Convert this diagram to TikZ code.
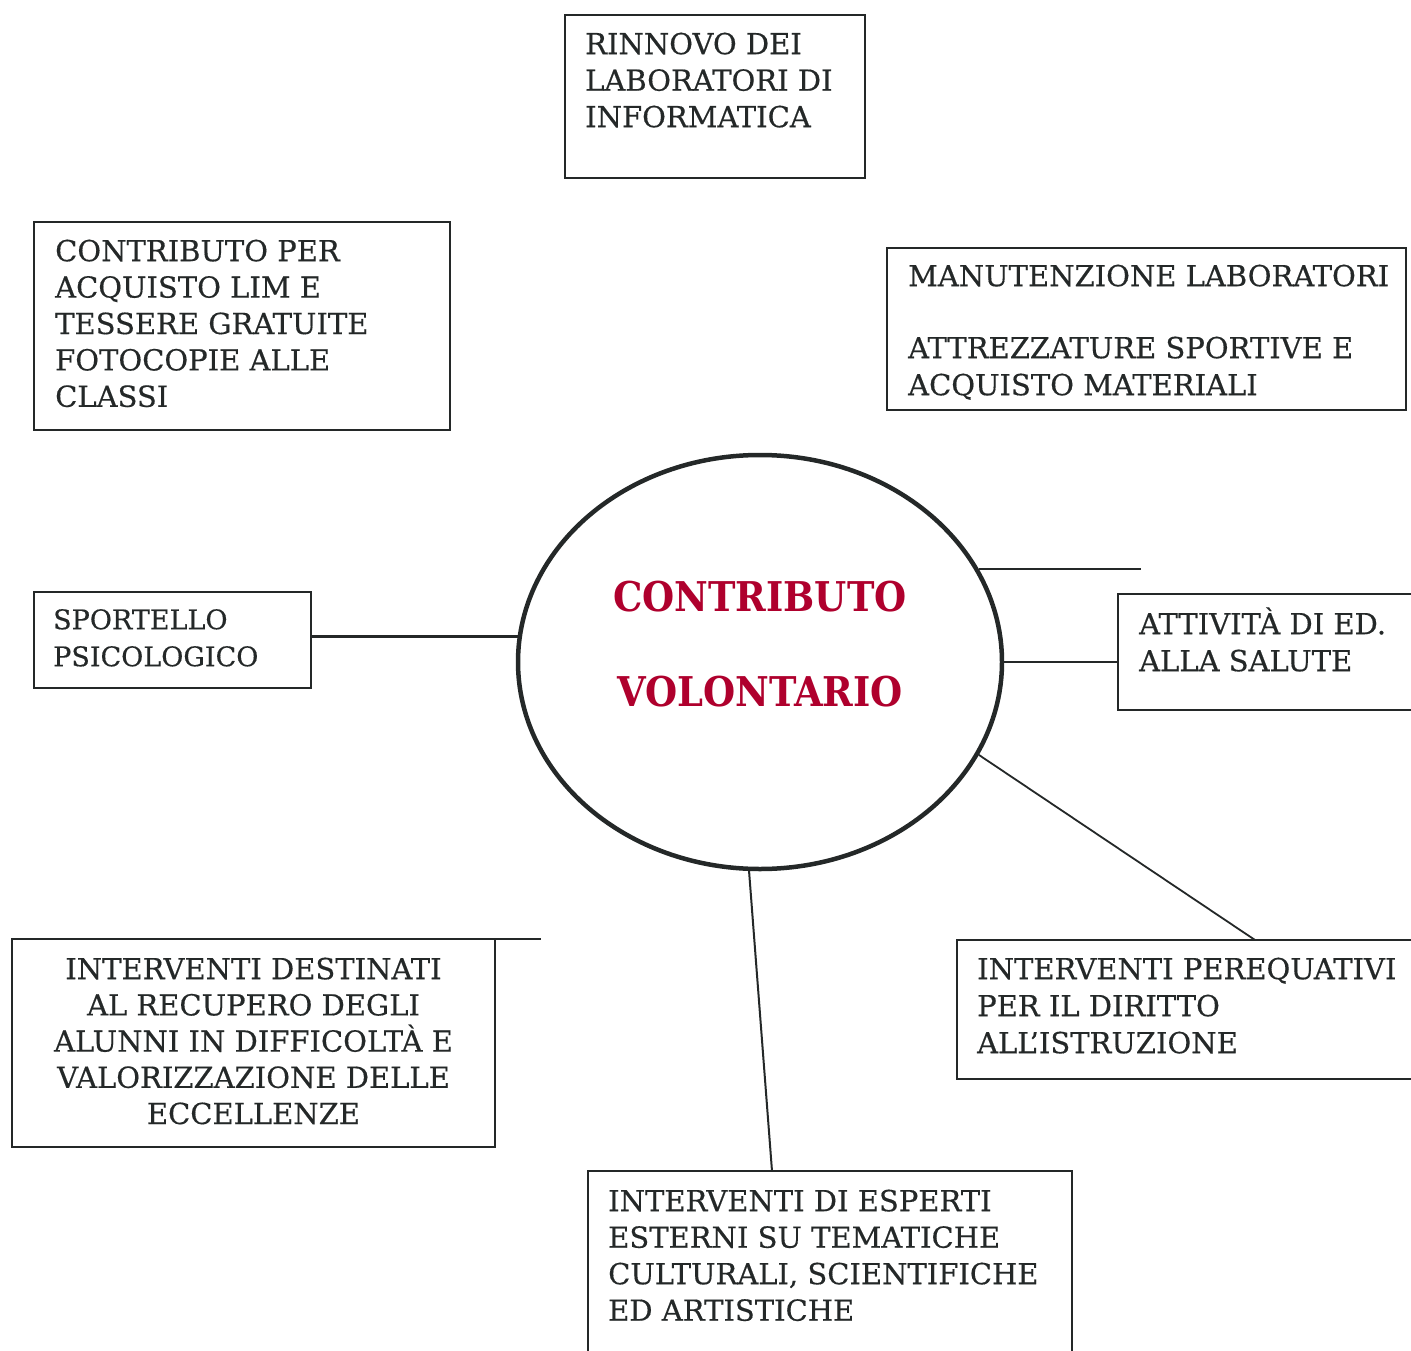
\documentclass[tikz,border=0pt]{standalone}
\usepackage{fontspec}
\setmainfont{DejaVu Serif}[FakeBold=0.4]
\newfontfamily\titlefont{DejaVu Serif Condensed}
\usetikzlibrary{shapes.geometric}
\definecolor{ink}{RGB}{36,40,40}
\definecolor{crimson}{RGB}{175,0,45}
\newcommand{\mystrut}{\rule{0pt}{30pt}}
\begin{document}
\begin{tikzpicture}[x=1pt,y=-1pt,
  frame/.style={draw=ink,line width=2.5pt,anchor=north west,inner sep=0pt,outer sep=0pt},
  txt/.style={font=\fontsize{29}{36.5}\selectfont,text=ink,align=left,inner sep=0pt,anchor=north west},
  link/.style={draw=ink,line width=2.3pt}]
\useasboundingbox (0,0) rectangle (1411,1351);
\fill[white] (0,0) rectangle (1411,1351);
\clip (0,0) rectangle (1411,1351);

% boxes
\node[frame,minimum width=300pt,minimum height=163pt] (rin) at (565,15) {};
\node[frame,minimum width=416pt,minimum height=208pt] (cpl) at (34,222) {};
\node[frame,minimum width=519pt,minimum height=162pt] (man) at (887,248) {};
\node[frame,minimum width=277pt,minimum height=96pt] (sport) at (34,592) {};
\node[frame,minimum width=320pt,minimum height=116pt] (att) at (1118,594) {};
\node[frame,minimum width=483pt,minimum height=208pt] (dest) at (12,939) {};
\node[frame,minimum width=480pt,minimum height=139pt] (per) at (957,940) {};
\node[frame,minimum width=484pt,minimum height=200pt] (esp) at (588,1171) {};

% texts
\node[txt] (rinT) at (585,24) {\mystrut RINNOVO DEI\\LABORATORI DI\\INFORMATICA};
\node[txt,font=\fontsize{29}{36.4}\selectfont] (cplT) at (55,231) {\mystrut CONTRIBUTO PER\\ACQUISTO LIM E\\TESSERE GRATUITE\\FOTOCOPIE ALLE\\CLASSI};
\node[txt,font=\fontsize{29}{37}\selectfont] (manT) at (908,256) {\mystrut MANUTENZIONE LABORATORI\\[35pt]ATTREZZATURE SPORTIVE E\\ACQUISTO MATERIALI};
\node[txt,font=\fontsize{27}{37}\selectfont] (sportT) at (53,599) {\mystrut SPORTELLO\\PSICOLOGICO};
\node[txt,font=\fontsize{29}{37}\selectfont] (attT) at (1139,604) {\mystrut ATTIVITÀ DI ED.\\ALLA SALUTE};
\node[txt,align=center,anchor=north,font=\fontsize{29}{36.2}\selectfont] (destT) at (253.5,949) {\mystrut INTERVENTI DESTINATI\\AL RECUPERO DEGLI\\ALUNNI IN DIFFICOLTÀ E\\VALORIZZAZIONE DELLE\\ECCELLENZE};
\node[txt,font=\fontsize{29}{37}\selectfont] (perT) at (977,949) {\mystrut INTERVENTI PEREQUATIVI\\PER IL DIRITTO\\ALL’ISTRUZIONE};
\node[txt] (espT) at (608,1181) {\mystrut INTERVENTI DI ESPERTI\\ESTERNI SU TEMATICHE\\CULTURALI, SCIENTIFICHE\\ED ARTISTICHE};

% central ellipse
\node[draw=ink,line width=4.5pt,ellipse,minimum width=484pt,minimum height=414pt,inner sep=0pt] (ell) at (760,662) {};
\node[font=\titlefont\bfseries\fontsize{41}{95}\selectfont,text=crimson,align=center,inner sep=0pt,anchor=north] (title) at (760,566) {\rule{0pt}{45pt}CONTRIBUTO\\VOLONTARIO};

% connectors
\coordinate (free) at (1141,570);
\coordinate (destend) at (541,939);
\draw[link] (ell.174.3) -- (ell.174.3 -| sport.east);
\draw[link] (ell.east) -- (ell.east -| att.west);
\draw[link] (ell.23) -- (ell.23 -| free);
\draw[link,line width=1.8pt] ([xshift=298pt]per.north west) -- (ell.-23.2);
\draw[link,line width=2pt] ([xshift=184pt]esp.north west) -- (ell.-93);
\draw[link] (dest.north east) -- (destend);
\end{tikzpicture}
\end{document}
